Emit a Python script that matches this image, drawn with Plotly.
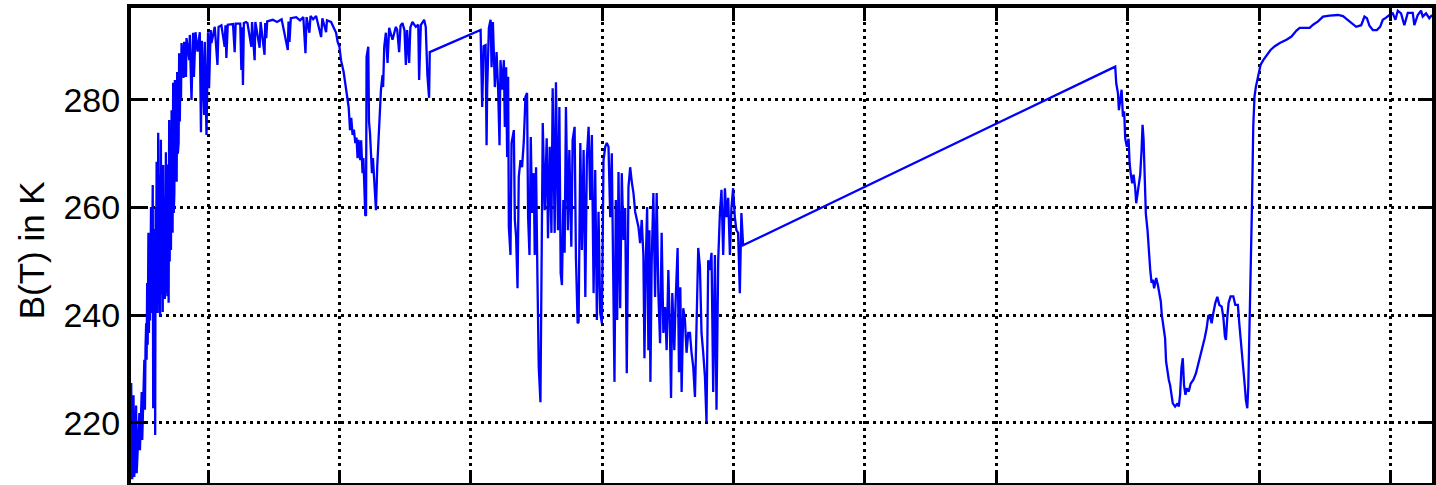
import plotly.graph_objects as go

# Brightness-temperature spectrum, (wavenumber in cm^-1, B(T) in K) per band.
# Consecutive samples are joined by straight line segments, which also spans
# the channel gaps between bands.
BAND1 = [
    (683.0, 227.4), (684.5, 209.5), (686.5, 225.1), (687.7, 209.9), (690.5, 223.2), (691.3, 210.6),
    (695.5, 221.8), (696.3, 214.9), (699.0, 225.7), (699.8, 216.8), (703.0, 231.7), (703.9, 222.4),
    (704.8, 234.0), (705.8, 238.5), (706.5, 231.7), (707.3, 246.0), (708.1, 234.5), (709.2, 255.3),
    (710.0, 236.7), (710.8, 252.0), (711.6, 239.0), (712.4, 256.5), (713.2, 260.1), (714.1, 240.4),
    (715.0, 258.0), (715.8, 264.2), (716.5, 222.7), (717.3, 255.0), (718.2, 238.0), (719.0, 256.0),
    (719.5, 217.7), (720.2, 260.1), (720.9, 243.0), (721.7, 268.5), (722.5, 244.5), (723.3, 240.4),
    (724.1, 273.9), (724.9, 246.0), (725.6, 266.0), (726.3, 241.5), (727.0, 239.7), (728.2, 272.6),
    (729.0, 244.0), (729.8, 265.0), (730.4, 242.0), (731.0, 240.6), (731.7, 267.9), (732.5, 246.5),
    (733.3, 262.0), (734.1, 243.0), (735.0, 245.2), (735.8, 270.3), (736.6, 248.0), (737.4, 268.0),
    (738.2, 243.5), (739.0, 266.5), (740.0, 242.3), (740.8, 276.3), (741.6, 250.0), (742.4, 272.0),
    (743.5, 252.1), (744.5, 278.1), (745.2, 256.0), (746.0, 255.3), (746.9, 283.2), (747.8, 259.0),
    (748.7, 262.7), (749.5, 283.7), (750.4, 266.0), (751.3, 281.5), (752.2, 264.8), (753.0, 285.2),
    (754.0, 270.0), (755.2, 272.0), (756.0, 288.7), (757.0, 276.0), (758.0, 287.0), (758.8, 280.0),
    (759.6, 290.6), (762.8, 284.1), (763.6, 290.8), (766.4, 284.3),
    (767.2, 291.5), (771.4, 287.4), (772.2, 292.1), (774.8, 280.0), (777.2, 292.5), (778.5, 284.3),
    (780.9, 292.6), (784.0, 289.0), (787.4, 292.6), (789.2, 274.0), (790.5, 291.0), (794.0, 277.2),
    (795.0, 290.8), (797.6, 273.5), (800.0, 292.6), (801.5, 282.2), (804.0, 293.0), (805.2, 290.6),
    (810.2, 293.6), (814.3, 286.5), (816.0, 293.6), (820.3, 293.9), (825.3, 289.9), (826.5, 293.9),
    (827.9, 287.8), (830.0, 294.0), (838.0, 294.1), (840.5, 288.9), (842.0, 294.2), (849.0, 294.2),
    (850.7, 285.6), (852.0, 293.5), (853.1, 282.8), (854.5, 294.3), (858.0, 294.5), (860.0, 294.3),
    (865.9, 289.9), (867.0, 294.5), (870.9, 287.4), (872.0, 294.5), (878.5, 289.7), (880.0, 294.5),
    (886.0, 288.4), (887.0, 294.3), (888.6, 291.5), (890.0, 294.6), (898.6, 294.9), (905.0, 294.5),
    (912.0, 295.0), (921.4, 289.3), (922.5, 294.6), (924.0, 290.8), (926.0, 295.2), (934.2, 295.4),
    (940.0, 294.8), (945.0, 295.4), (948.3, 288.7), (950.0, 295.4), (954.3, 292.5), (956.0, 295.6),
    (960.0, 295.0), (964.5, 295.6), (972.1, 291.7), (974.0, 295.2), (979.7, 292.6), (981.0, 294.8),
    (987.3, 294.5), (994.9, 292.5), (997.3, 290.8), (1000.0, 289.9), (1002.4, 287.4), (1006.4, 285.2),
    (1009.0, 283.2), (1010.9, 281.9), (1012.5, 280.0), (1014.0, 278.7), (1015.0, 276.8), (1016.1, 274.4),
    (1018.0, 276.7), (1020.0, 273.5), (1022.0, 274.5), (1024.2, 272.0), (1026.0, 273.0), (1027.6, 269.2),
    (1029.0, 272.6), (1031.7, 268.8), (1033.0, 272.5), (1035.2, 266.4), (1036.5, 269.2), (1037.8, 262.0),
    (1039.3, 258.6), (1040.5, 258.5), (1041.3, 288.0), (1043.9, 289.9), (1045.0, 276.0), (1046.5, 273.9),
    (1048.0, 270.0), (1049.5, 266.4), (1051.0, 269.2), (1053.0, 263.8), (1055.6, 259.5), (1057.5, 267.5),
    (1060.6, 274.4), (1063.2, 281.9), (1065.6, 284.6), (1066.5, 282.4), (1068.2, 289.9), (1070.7, 292.5),
    (1073.2, 286.9), (1074.5, 293.0), (1075.7, 293.4), (1080.8, 291.2), (1085.9, 293.6), (1088.0, 293.0),
    (1090.9, 288.9), (1093.0, 293.8), (1095.9, 294.3), (1099.0, 293.0), (1101.1, 286.5), (1103.0, 293.0),
    (1106.1, 286.9), (1108.0, 293.5), (1111.1, 294.5), (1116.3, 293.6), (1120.0, 294.0), (1121.3, 283.7),
    (1123.9, 293.9), (1128.9, 294.9), (1131.4, 293.6), (1133.9, 284.6), (1136.5, 280.4), (1137.5, 288.9),
]

BAND2 = [
    (1214.9, 293.0), (1217.3, 278.7), (1219.5, 290.0), (1222.5, 290.2), (1224.0, 271.6), (1224.9, 281.9),
    (1227.5, 293.4), (1230.1, 294.9), (1231.6, 286.1), (1233.6, 294.5), (1235.1, 288.0), (1236.6, 282.4),
    (1239.2, 288.9), (1241.6, 281.9), (1243.7, 271.6), (1245.2, 287.4), (1247.7, 281.9), (1250.3, 287.4),
    (1251.8, 275.0), (1253.8, 286.1), (1255.3, 269.4), (1256.8, 284.3), (1257.9, 256.4), (1260.4, 251.2),
    (1262.0, 272.0), (1265.5, 274.4), (1267.0, 257.7), (1269.0, 254.5), (1271.1, 245.0), (1273.0, 265.7),
    (1275.6, 268.8), (1278.0, 267.5), (1280.6, 272.2), (1283.2, 280.6), (1285.6, 281.3), (1287.2, 258.2),
    (1289.3, 251.2), (1291.3, 273.1), (1293.2, 259.0), (1295.8, 266.4), (1297.3, 251.2), (1299.3, 267.5),
    (1301.4, 247.1), (1303.4, 230.4), (1306.0, 223.8), (1307.5, 242.8), (1309.5, 275.7), (1312.5, 259.5),
    (1315.5, 272.9), (1317.5, 254.3), (1320.1, 271.3), (1322.7, 255.3), (1324.6, 282.2), (1327.7, 255.3),
    (1329.6, 283.3), (1332.7, 255.8), (1334.8, 278.7), (1336.8, 247.8), (1338.7, 245.6), (1340.9, 261.4),
    (1342.8, 251.6), (1344.8, 278.7), (1347.8, 255.8), (1350.0, 270.7), (1353.0, 252.7), (1355.0, 272.6),
    (1358.0, 275.0), (1360.0, 250.8), (1362.6, 238.5), (1364.1, 238.7), (1366.7, 272.0), (1369.1, 252.1),
    (1371.7, 270.7), (1374.3, 243.4), (1376.7, 269.4), (1379.3, 275.0), (1381.8, 261.4), (1384.3, 273.5),
    (1386.9, 244.1), (1389.4, 267.0), (1391.9, 239.1), (1394.4, 259.2), (1397.0, 240.4), (1399.5, 238.5),
    (1402.0, 268.8), (1404.6, 271.3), (1407.0, 272.0), (1409.6, 271.3), (1412.2, 258.2), (1414.6, 270.1),
    (1417.2, 244.7), (1418.7, 227.6), (1420.7, 261.4), (1422.8, 239.1), (1424.8, 266.6), (1427.4, 241.3),
    (1429.8, 266.4), (1432.4, 254.0), (1435.0, 259.9), (1437.4, 229.2), (1440.0, 263.8), (1442.6, 267.5),
    (1445.0, 264.8), (1447.6, 262.7), (1450.2, 259.2), (1452.6, 257.7), (1455.2, 256.4), (1457.7, 253.4),
    (1460.2, 257.7), (1462.7, 251.2), (1464.3, 232.0), (1466.2, 248.9), (1468.4, 260.1), (1470.3, 233.5),
    (1471.9, 255.8), (1473.4, 227.6), (1475.3, 249.7), (1477.9, 262.7), (1480.5, 243.4), (1482.9, 262.7),
    (1485.5, 244.1), (1488.1, 234.8), (1490.5, 255.3), (1493.1, 236.7), (1495.7, 241.5), (1498.1, 233.5),
    (1500.7, 248.4), (1503.2, 236.7), (1504.8, 224.6), (1506.7, 244.1), (1509.8, 233.5), (1511.7, 242.3),
    (1514.8, 252.5), (1516.9, 229.4), (1518.9, 245.2), (1520.9, 225.7), (1523.4, 241.3), (1526.0, 239.1),
    (1528.4, 233.0), (1531.0, 236.7), (1533.6, 236.7), (1536.0, 233.0), (1538.6, 230.4), (1541.2, 224.8),
    (1543.6, 236.7), (1546.2, 252.5), (1548.8, 248.9), (1551.2, 236.7), (1553.8, 233.0), (1556.4, 228.5),
    (1558.8, 220.1), (1561.4, 250.2), (1564.0, 248.4), (1566.4, 251.6), (1569.0, 225.7), (1571.6, 251.2),
    (1574.0, 222.4), (1576.6, 250.2), (1579.2, 259.0), (1581.6, 263.3), (1584.2, 251.2), (1586.8, 263.6),
    (1589.2, 258.2), (1591.8, 261.8), (1594.4, 251.2), (1596.7, 259.9), (1599.3, 263.6), (1601.9, 258.2),
    (1604.3, 255.8), (1606.9, 255.3), (1609.5, 244.1), (1611.9, 259.0), (1614.5, 253.0),
]

BAND3 = [
    (2181.0, 286.2), (2182.5, 283.1), (2185.1, 281.3), (2186.6, 278.1), (2188.6, 280.0), (2190.7, 281.9),
    (2192.7, 276.9), (2194.6, 277.9), (2196.2, 272.8), (2198.7, 271.3), (2201.3, 272.8), (2202.9, 268.2),
    (2204.8, 266.1), (2206.8, 264.5), (2208.9, 266.1), (2211.4, 263.6), (2212.9, 260.8), (2215.0, 262.7),
    (2217.4, 263.9), (2219.0, 266.1), (2221.1, 270.7), (2222.6, 275.4), (2224.1, 272.8), (2225.7, 266.7),
    (2227.6, 258.8), (2230.2, 255.7), (2232.2, 250.7), (2234.2, 248.5), (2236.3, 246.0), (2238.3, 246.6),
    (2240.2, 245.0), (2243.3, 246.9), (2245.9, 245.6), (2248.4, 243.8), (2250.4, 242.5), (2251.9, 240.0),
    (2254.5, 237.6), (2256.9, 235.7), (2258.4, 231.4), (2260.6, 229.2), (2262.5, 228.0), (2264.5, 227.0),
    (2266.6, 225.2), (2268.6, 223.6), (2272.1, 223.0), (2275.7, 223.6), (2277.7, 223.0), (2279.7, 225.2),
    (2281.8, 230.2), (2283.8, 232.0), (2285.7, 227.0), (2287.9, 225.2), (2289.8, 226.4), (2292.9, 225.8),
    (2295.9, 227.3), (2300.0, 228.0), (2303.9, 229.2), (2308.0, 231.1), (2311.1, 232.6), (2314.1, 234.2),
    (2317.1, 235.7), (2320.2, 237.6), (2322.8, 240.0), (2325.2, 239.7), (2327.8, 238.5), (2330.3, 240.4),
    (2333.4, 242.3), (2336.4, 243.4), (2339.5, 241.9), (2343.0, 241.6), (2345.5, 239.7), (2348.0, 236.0),
    (2349.5, 235.4), (2351.6, 239.7), (2353.6, 242.3), (2356.6, 243.5), (2360.7, 243.5), (2363.8, 241.9),
    (2367.7, 241.9), (2369.8, 238.5), (2371.8, 236.0), (2373.8, 233.5), (2375.9, 230.7), (2377.9, 227.3),
    (2379.9, 224.2), (2382.0, 222.7), (2383.5, 226.6), (2385.0, 234.8), (2387.0, 247.1), (2389.0, 259.5),
    (2391.1, 275.1), (2393.0, 280.6), (2395.0, 282.4), (2397.1, 283.7), (2399.1, 285.0), (2402.2, 286.5),
    (2406.3, 287.4), (2410.2, 288.0), (2412.4, 288.4), (2417.4, 289.3), (2423.9, 290.0), (2431.5, 290.6),
    (2441.7, 291.2), (2449.3, 291.8), (2456.9, 292.9), (2461.8, 293.4), (2477.0, 293.4), (2482.2, 294.0),
    (2489.7, 294.6), (2497.3, 295.5), (2507.3, 295.7), (2520.1, 295.8), (2527.7, 295.6), (2535.2, 294.9),
    (2542.8, 294.1), (2547.8, 293.6), (2555.4, 293.9), (2560.4, 295.5), (2564.1, 295.2), (2568.0, 293.8),
    (2573.2, 293.0), (2579.2, 293.0), (2584.2, 293.6), (2588.3, 294.9), (2593.3, 295.3), (2598.4, 295.8),
    (2603.5, 296.1), (2607.5, 294.9), (2611.1, 296.6), (2616.1, 296.1), (2621.1, 293.9), (2626.3, 296.2),
    (2633.9, 296.2), (2636.3, 293.9), (2641.5, 295.8), (2646.5, 296.6), (2649.1, 295.5), (2654.1, 296.1),
    (2659.1, 295.2), (2663.2, 295.8),
]

WAVENUMBER_GRID = [800, 1000, 1200, 1400, 1600, 1800, 2000, 2200, 2400, 2600]
BT_TICKS = [220, 240, 260, 280]
WAVENUMBER_RANGE = [682.7, 2663.2]
BT_RANGE = [208.8, 297.1]
Y_LABEL = "B(T) in K"

spectrum = BAND1 + BAND2 + BAND3
wavenumber = [p[0] for p in spectrum]
brightness_temp = [p[1] for p in spectrum]

FONT = "Liberation Sans, Arial, Helvetica, sans-serif"

fig = go.Figure(
    go.Scatter(
        x=wavenumber,
        y=brightness_temp,
        mode="lines",
        line=dict(color="#0000ff", width=2.3),
        hoverinfo="x+y",
    )
)

axis_common = dict(
    ticks="inside",
    tickcolor="black",
    tickwidth=3,
    showline=True,
    linecolor="black",
    linewidth=4,
    mirror="ticks",
    showgrid=True,
    gridcolor="black",
    gridwidth=2.5,
    griddash="3px,4px",
    zeroline=False,
)

fig.update_xaxes(
    range=WAVENUMBER_RANGE,
    tickmode="array",
    tickvals=WAVENUMBER_GRID,
    showticklabels=False,
    ticklen=13,
    **axis_common,
)
fig.update_yaxes(
    range=BT_RANGE,
    tickmode="array",
    tickvals=BT_TICKS,
    ticktext=[str(v) for v in BT_TICKS],
    ticklen=14,
    tickfont=dict(family=FONT, size=34, color="black"),
    **axis_common,
)

fig.add_annotation(
    text=Y_LABEL,
    textangle=-90,
    xref="paper",
    yref="paper",
    x=-0.0766,
    y=0.4905,
    xanchor="center",
    yanchor="middle",
    showarrow=False,
    font=dict(family=FONT, size=35, color="black"),
)

fig.update_layout(
    width=1436,
    height=485,
    margin=dict(l=131, r=0, t=8, b=2),
    paper_bgcolor="white",
    plot_bgcolor="white",
    showlegend=False,
    font=dict(family=FONT, color="black"),
)

fig.write_html("out.html")
